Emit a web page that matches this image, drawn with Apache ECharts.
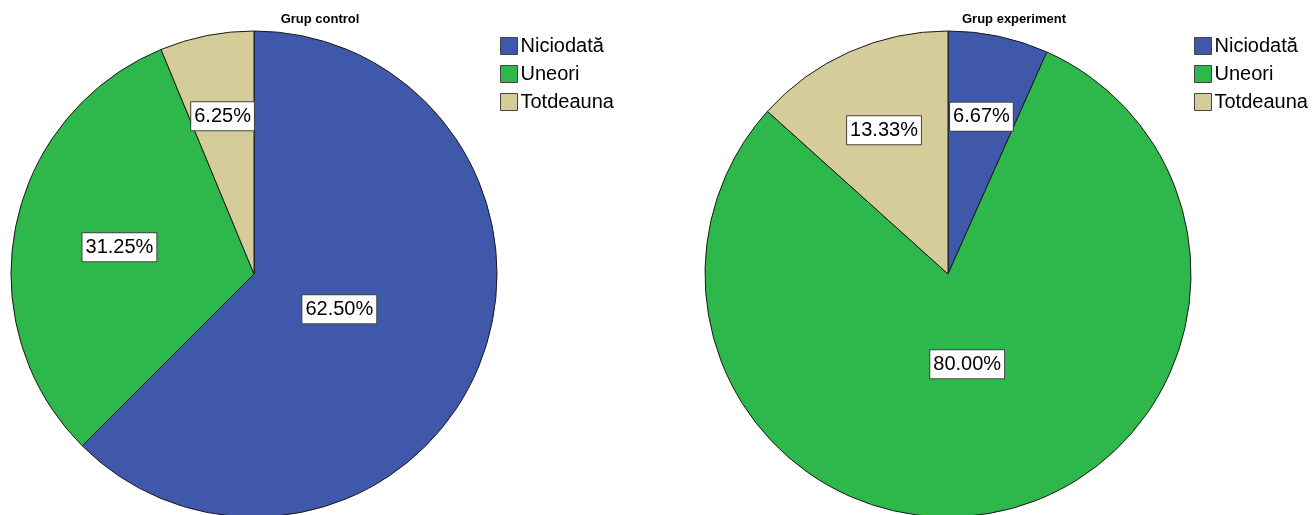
<!DOCTYPE html>
<html>
<head>
<meta charset="utf-8">
<script src="https://cdn.jsdelivr.net/npm/echarts@6/dist/echarts.min.js"></script>
<style>
  html, body { margin: 0; padding: 0; background: #ffffff; }
  #chart { width: 1314px; height: 515px; }
</style>
</head>
<body>
<div id="chart"></div>
<script>
// data (percent of each group)
const categories = ["Niciodată", "Uneori", "Totdeauna"];
const controlValues = [62.5, 31.25, 6.25];
const experimentValues = [6.67, 80.0, 13.33];
const groupTitles = ["Grup control", "Grup experiment"];
const colors = ["#3f58a9", "#2eb74a", "#d4cd99"];

const FONT = "Liberation Sans, Arial, sans-serif";
const RADIUS = 243;
const centers = [[254, 274], [948, 274]];
const allValues = [controlValues, experimentValues];

// label spot like SPSS: centroid of the slice, pushed out a bit for very wide slices
function labelSpot(seriesIndex, dataIndex) {
  const vals = allValues[seriesIndex];
  const total = vals.reduce((a, b) => a + b, 0);
  let before = 0;
  for (let i = 0; i < dataIndex; i++) before += vals[i];
  const half = Math.PI * vals[dataIndex] / total;
  const mid = 2 * Math.PI * before / total + half;
  let d = 2 * RADIUS * Math.sin(half) / (3 * half);
  d = Math.max(d, 0.38 * RADIUS);
  const c = centers[seriesIndex];
  return [c[0] + d * Math.sin(mid), c[1] - d * Math.cos(mid)];
}

const chart = echarts.init(document.getElementById("chart"));

function pieSeries(idx, vals) {
  return {
    name: groupTitles[idx],
    type: "pie",
    center: centers[idx],
    radius: RADIUS,
    startAngle: 90,
    clockwise: true,
    avoidLabelOverlap: false,
    data: categories.map((c, i) => ({
      name: c,
      value: vals[i],
      itemStyle: { color: colors[i] }
    })),
    itemStyle: { borderColor: "#1a1a1a", borderWidth: 1 },
    label: {
      show: true,
      position: "inside",
      formatter: p => p.value.toFixed(2) + "%",
      color: "#000",
      fontFamily: FONT,
      fontSize: 20,
      lineHeight: 23,
      backgroundColor: "#ffffff",
      borderColor: "#444",
      borderWidth: 1,
      padding: [3, 3, 2, 3]
    },
    labelLine: { show: false },
    labelLayout: params => {
      const p = labelSpot(params.seriesIndex, params.dataIndex);
      return { x: p[0], y: p[1] };
    },
    emphasis: { disabled: true }
  };
}

function legendAt(left) {
  return {
    orient: "vertical",
    left: left,
    top: 36,
    padding: 0,
    icon: "rect",
    itemWidth: 17,
    itemHeight: 17,
    itemGap: 8,
    data: categories,
    itemStyle: { borderColor: "#444", borderWidth: 1 },
    textStyle: { fontFamily: FONT, fontSize: 20, color: "#000", padding: [0, 0, 0, -2] }
  };
}

chart.setOption({
  backgroundColor: "#ffffff",
  animation: false,
  color: colors,
  title: [
    {
      text: groupTitles[0],
      left: 320,
      top: 13,
      padding: 0,
      textAlign: "center",
      textStyle: { fontFamily: FONT, fontSize: 13, fontWeight: "bold", color: "#000" }
    },
    {
      text: groupTitles[1],
      left: 1014,
      top: 13,
      padding: 0,
      textAlign: "center",
      textStyle: { fontFamily: FONT, fontSize: 13, fontWeight: "bold", color: "#000" }
    }
  ],
  legend: [legendAt(500), legendAt(1194)],
  series: [pieSeries(0, controlValues), pieSeries(1, experimentValues)]
});
</script>
</body>
</html>
